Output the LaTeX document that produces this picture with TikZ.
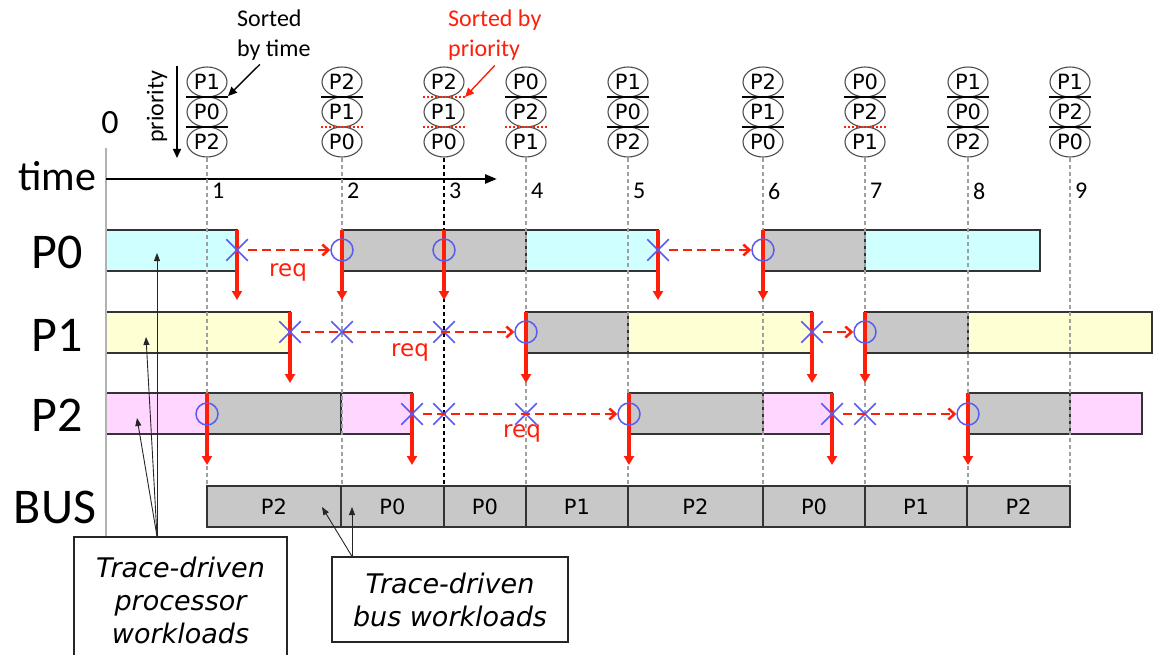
\documentclass[tikz,border=0pt]{standalone}
\usepackage{fontspec}
\setmainfont{Carlito}
\newfontfamily\verdfont{DejaVu Sans}[ItalicFont={DejaVu Sans Oblique}]
\usetikzlibrary{positioning,arrows.meta,calc,shapes.geometric,shapes.misc}
\definecolor{cyanbar}{RGB}{208,255,255}
\definecolor{yelbar}{RGB}{255,255,212}
\definecolor{pinkbar}{RGB}{255,214,255}
\definecolor{busgray}{RGB}{200,200,200}
\definecolor{reqred}{RGB}{255,30,10}
\definecolor{markblue}{RGB}{90,90,240}
\tikzset{
  pill/.style={ellipse,draw=black!70,line width=1.1pt,minimum width=40pt,minimum height=30pt,inner sep=0pt,font=\verdfont\fontsize{21}{21}\selectfont},
  sepb/.style={line width=2.8pt,black},
  sepr/.style={line width=2pt,reqred,dash pattern=on 2pt off 2pt},
  tline/.style={gray!75,line width=1.2pt,dash pattern=on 4pt off 3pt},
  tlinek/.style={black,line width=1.2pt,dash pattern=on 4pt off 3pt},
  tick/.style={anchor=west,inner sep=0pt,font=\fontsize{24}{24}\selectfont},
  rowlbl/.style={font=\fontsize{50}{50}\selectfont},
  bar/.style={draw=black!80,line width=1.2pt},
  drop/.style={reqred,line width=3.5pt,-{Triangle[length=9pt,width=10pt]}},
  xmark/.style={cross out,draw=markblue,line width=1.5pt,minimum size=20pt,inner sep=0pt},
  omark/.style={circle,draw=markblue,line width=1.5pt,minimum size=22pt,inner sep=0pt},
  req/.style={reqred,line width=2.6pt,dash pattern=on 9pt off 5pt,-{Straight Barb[length=6pt,width=11pt]}},
  reqlbl/.style={text=reqred,font=\verdfont\fontsize{23}{23}\selectfont},
  buslbl/.style={font=\verdfont\fontsize{21}{21}\selectfont},
  notebox/.style={draw=black!85,line width=1.2pt,fill=white,align=center,font=\verdfont\itshape\fontsize{27}{33}\selectfont},
  note/.style={black!85,line width=0.9pt,-{Triangle[length=8pt,width=6pt]}},
}

\begin{document}
\begin{tikzpicture}[x=1pt,y=-1pt]
  \useasboundingbox (0,0) rectangle (1155,655);

  % processor bars
  \foreach \a/\b/\y/\c in {106/237/230/cyanbar, 342/526/230/busgray, 526/658/230/cyanbar, 763/865/230/busgray, 865/1040/230/cyanbar,
      106/290/312/yelbar, 526/628/312/busgray, 628/812/312/yelbar, 865/968/312/busgray, 968/1152/312/yelbar,
      106/207/393/pinkbar, 207/341/393/busgray, 341/412/393/pinkbar, 629/763/393/busgray, 763/832/393/pinkbar, 968/1070/393/busgray, 1070/1142/393/pinkbar}
    \draw[bar,fill=\c] (\a,\y) rectangle (\b,\y+41);

  % bus
  \foreach \a/\b/\p [count=\i] in {207/341/2, 341/444/0, 444/526/0, 526/628/1, 628/763/2, 763/865/0, 865/967/1, 967/1070/2} {
    \draw[bar,fill=busgray] (\a,486) rectangle (\b,527);
    \node[buslbl] (bus\i) at ({(\a+\b)/2},507) {P\p};
  }

  % row labels and axes
  \node[font=\fontsize{34}{34}\selectfont] (zero) at (110,123) {0};
  \node[font=\fontsize{42}{42}\selectfont] (timelbl) at (57,176) {time};
  \node[rowlbl] (lP0) at (57,252) {P0};
  \node[rowlbl] (lP1) at (57,335) {P1};
  \node[rowlbl] (lP2) at (57,415) {P2};
  \node[rowlbl] (lbus) at (55,507) {BUS};
  \node[rotate=90,font=\fontsize{24}{24}\selectfont] (prio) at (157,107) {priority};
  \coordinate (prtop) at (177,66);
  \coordinate (prbot) at (177,158);
  \draw[black,line width=1.5pt,-{Triangle[length=9pt,width=8pt]}] (prtop) -- (prbot);
  \draw[gray!60,line width=1.3pt] (106,148) -- (106,537);
  \coordinate (t0) at (106,179);
  \coordinate (t1) at (497,179);
  \draw[black,line width=2.5pt,-{Triangle[length=12pt,width=9pt]}] (t0) -- (t1);

  % event queues and time lines
  \foreach \x/\a/\b/\c/\sa/\sb/\ls [count=\i] in {207/1/0/2/sepb/sepb/tline, 342/2/1/0/sepb/sepr/tline, 444/2/1/0/sepr/sepr/tlinek,
      526/0/2/1/sepb/sepr/tline, 628/1/0/2/sepb/sepb/tline, 763/2/1/0/sepb/sepb/tline, 865/0/2/1/sepb/sepr/tline,
      968/1/0/2/sepb/sepb/tline, 1070/1/2/0/sepb/sepb/tline} {
    \node[pill] (s\i a) at (\x,82) {P\a};
    \node[pill] (s\i b) at (\x,112) {P\b};
    \node[pill] (s\i c) at (\x,142) {P\c};
    \draw[\sa] (\x-21,97) -- (\x+21,97);
    \draw[\sb] (\x-21,127) -- (\x+21,127);
    \draw[\ls] (s\i c.south) -- (\x,486);
    \node[tick] (n\i) at (\x+5,191) {\i};
  }

  \node[anchor=north west,align=left,inner sep=0pt,font=\fontsize{24}{30}\selectfont] (sortt) at (237,9.5) {Sorted\\by time};
  \node[anchor=north west,align=left,inner sep=0pt,text=reqred,font=\fontsize{24}{30}\selectfont] (sortp) at (448,9.5) {Sorted by\\priority};
  \coordinate (tsep) at (228,96);
  \coordinate (psep) at (465,97);
  \draw[black,line width=1.4pt,-{Triangle[length=9pt,width=8pt]}] ([xshift=-14pt,yshift=-4pt]sortt.south) -- (tsep);
  \draw[reqred,line width=1.4pt,-{Triangle[length=9pt,width=8pt]}] ([yshift=-5pt]sortp.south) -- (psep);

  % bus grants
  \foreach \x in {237,342,444,658,763} \draw[drop] (\x,230) -- (\x,300);
  \foreach \x in {290,526,812,865} \draw[drop] (\x,312) -- (\x,383);
  \foreach \x in {207,412,629,832,968} \draw[drop] (\x,393) -- (\x,465);

  % requests
  \node[xmark] (x0a) at (237,250) {};
  \node[omark] (o0a) at (342,250) {};
  \node[omark] (o0b) at (444,250) {};
  \node[xmark] (x0b) at (658,250) {};
  \node[omark] (o0c) at (763,250) {};
  \node[xmark] (x1a) at (290,332) {};
  \node[xmark] (x1b) at (342,332) {};
  \node[xmark] (x1c) at (444,332) {};
  \node[omark] (o1a) at (526,332) {};
  \node[xmark] (x1d) at (812,332) {};
  \node[omark] (o1b) at (865,332) {};
  \node[omark] (o2a) at (207,414) {};
  \node[xmark] (x2a) at (412,414) {};
  \node[xmark] (x2b) at (444,414) {};
  \node[xmark] (x2c) at (526,414) {};
  \node[omark] (o2b) at (629,414) {};
  \node[xmark] (x2d) at (832,414) {};
  \node[xmark] (x2e) at (865,414) {};
  \node[omark] (o2c) at (968,414) {};
  \draw[req] (x0a) -- (o0a);
  \draw[req] (x0b) -- (o0c);
  \draw[req] (x1a) -- (o1a);
  \draw[req] (x1d) -- (o1b);
  \draw[req] (x2a) -- (o2b);
  \draw[req] (x2d) -- (o2c);
  \node[reqlbl] (r0) at (288,272) {req};
  \node[reqlbl] (r1) at (410,352) {req};
  \node[reqlbl] (r2) at (522,433) {req};

  % workload notes
  \node[notebox,minimum width=213pt,minimum height=126pt] (lbox) at (180.5,600) {Trace-driven\\processor\\workloads};
  \node[notebox,minimum width=236pt,minimum height=85pt] (rbox) at (450,599.5) {Trace-driven\\bus workloads};
  \coordinate (wP0) at (157,253);
  \coordinate (wP1) at (146,337);
  \coordinate (wP2) at (137,418);
  \coordinate (wB0) at (322,507);
  \coordinate (wB1) at (352,507);
  \draw[note] ([xshift=-23.5pt]lbox.north) -- (wP0);
  \draw[note] ([xshift=-23.5pt]lbox.north) -- (wP1);
  \draw[note] ([xshift=-23.5pt]lbox.north) -- (wP2);
  \draw[note] ([xshift=-98pt]rbox.north) -- (wB0);
  \draw[note] ([xshift=-98pt]rbox.north) -- (wB1);
\end{tikzpicture}
\end{document}
